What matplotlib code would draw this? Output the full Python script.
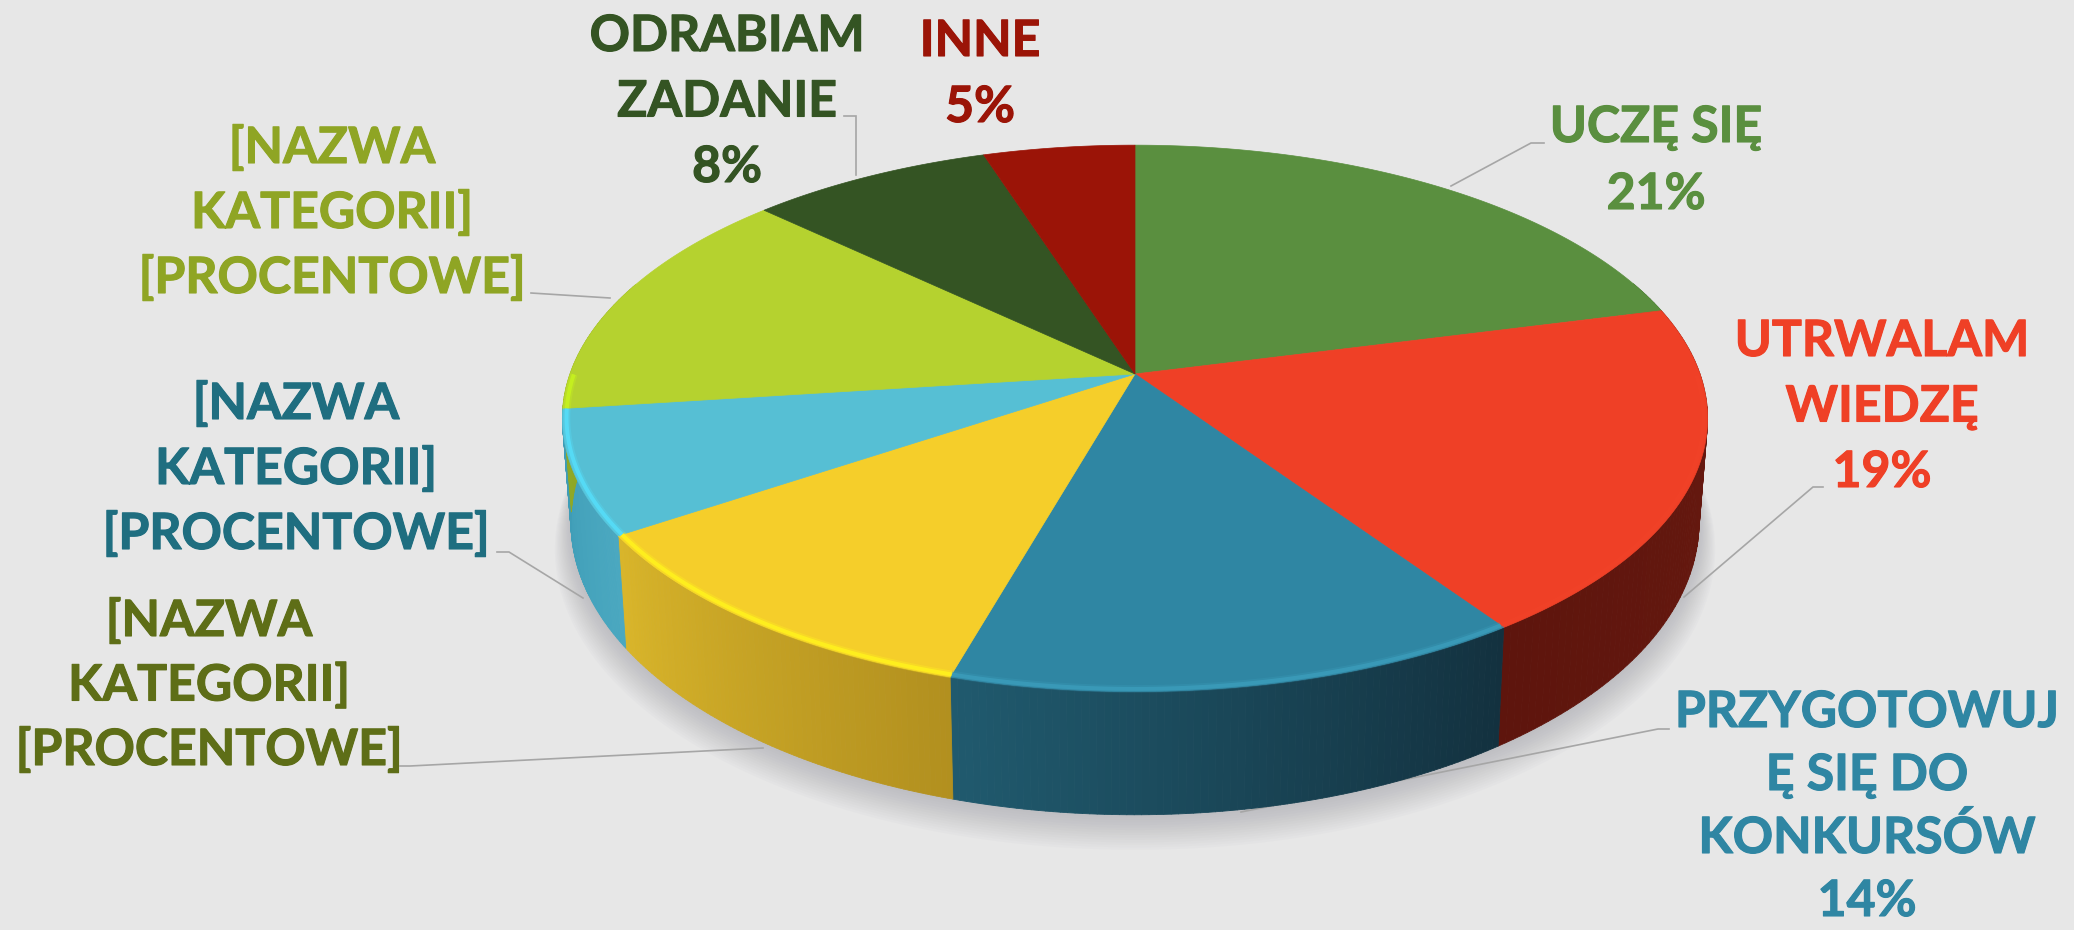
import numpy as np
import matplotlib
matplotlib.use("Agg")
import matplotlib.pyplot as plt
import matplotlib.patheffects as pe
from matplotlib.collections import PolyCollection
from matplotlib.colors import to_rgb

plt.rcParams['font.family'] = ['Lato', 'DejaVu Sans']

# Slice shares (clockwise from 12 o'clock)
shares = [21, 19.4, 14, 11.2, 7.3, 14, 8, 5]
top_colors = ['#5A8F3F', '#EF4026', '#2F86A3', '#F5CE2A', '#56BFD4', '#B5D22F', '#345423', '#9B1407']
wall_start = ['#3C5F2A', '#6A1A10', '#13313F', '#B2901F', '#4AA8C0', '#8FA826', '#22381A', '#660E05']
wall_end = ['#3C5F2A', '#5E150D', '#205A6E', '#D9B52A', '#3E9CB6', '#8FA826', '#22381A', '#660E05']
rim_colors = [None, '#F5452A', '#3FA3C2', '#FFF01E', '#55DDF8', '#C6F21E', None, None]
rim_alpha = [0, 0.3, 0.6, 0.95, 0.9, 0.9, 0, 0]

label_lines = [
    ['UCZĘ SIĘ', '21%'],
    ['UTRWALAM', 'WIEDZĘ', '19%'],
    ['PRZYGOTOWUJ', 'Ę SIĘ DO', 'KONKURSÓW', '14%'],
    ['[NAZWA', 'KATEGORII]', '[PROCENTOWE]'],
    ['[NAZWA', 'KATEGORII]', '[PROCENTOWE]'],
    ['[NAZWA', 'KATEGORII]', '[PROCENTOWE]'],
    ['ODRABIAM', 'ZADANIE', '8%'],
    ['INNE', '5%'],
]
label_colors = ['#5A8F3F', '#EF4026', '#2F86A3', '#5E6E17', '#1F6E80', '#8FA524', '#345423', '#9B1407']
label_x = [1656, 1882, 1867, 209, 296, 332, 727, 980]
label_y = [142, 356, 727, 636, 419, 163, 51, 56]
label_pitch = [67, 65.5, 63, 64.5, 65, 65, 65.5, 66]
leaders = [
    [(1451, 186), (1531, 143), (1544, 143)],
    [(1684, 597), (1813, 487), (1823, 487)],
    [(1241, 812), (1658, 729), (1669, 729)],
    [(763, 748), (410, 766), (400, 766)],
    [(583, 598), (509, 552), (497, 552)],
    [(610, 298), (531, 293)],
    [(856, 175), (856, 116), (844, 116)],
]

BG = '#E7E7E7'
CX, CY, A, B, P = 1135.0, 374.0, 565.0, 266.0, 0.1623


def top_xy(theta, r=1.0):
    x, y = r * np.sin(theta), r * np.cos(theta)
    w = 1 + P * y
    return A * x / w, -B * y / w


def bottom_xy(theta):
    X, Y = top_xy(theta)
    return 0.985 * X, Y + 101 + 0.07 * Y


fig = plt.figure(figsize=(20.74, 9.30), dpi=100, facecolor=BG)
ax = fig.add_axes([0, 0, 1, 1])
ax.set_xlim(0, 2074)
ax.set_ylim(930, 0)
ax.axis('off')

# soft shadow under the pie
full = np.linspace(0, 2 * np.pi, 361)
bx, by = bottom_xy(full)
for k in range(14):
    grow = 1 + 0.0022 * k
    ax.fill(CX + bx * grow, CY + by * grow + 1.5 * k + 3, color='#8F8F98', alpha=0.035, lw=0, zorder=1)

# leader lines end at the pie's edge, behind it
for pts in leaders:
    xs, ys = zip(*pts)
    ax.plot(xs, ys, color='#A6A6A6', lw=1.2, zorder=1.5, solid_joinstyle='miter')

edges = np.cumsum([0] + shares) / sum(shares) * 2 * np.pi

# side wall
for i in range(len(shares)):
    th = np.linspace(edges[i], edges[i + 1], 80)
    c0, c1 = np.array(to_rgb(wall_start[i])), np.array(to_rgb(wall_end[i]))
    quads, cols = [], []
    for j in range(len(th) - 1):
        t = th[j:j + 2]
        if np.cos(t).min() > 0.35:
            continue
        tx, ty = top_xy(t)
        ux, uy = bottom_xy(t)
        quads.append([(CX + tx[0], CY + ty[0]), (CX + tx[1], CY + ty[1]),
                      (CX + ux[1], CY + uy[1]), (CX + ux[0], CY + uy[0])])
        cols.append(c0 + (c1 - c0) * j / (len(th) - 2))
    if quads:
        ax.add_collection(PolyCollection(quads, facecolors=cols, edgecolors=cols, linewidths=0.6, zorder=2))

# top face
for i in range(len(shares)):
    th = np.linspace(edges[i], edges[i + 1], 120)
    tx, ty = top_xy(th)
    ax.fill(np.r_[CX, CX + tx], np.r_[CY, CY + ty], color=top_colors[i], lw=0.5, zorder=3)

# bright rim along the front edge
for i in range(len(shares)):
    if rim_colors[i] is None:
        continue
    th = np.linspace(edges[i], edges[i + 1], 120)
    th = th[np.cos(th) < 0.0]
    if len(th) < 2:
        continue
    tx, ty = top_xy(th, 0.993)
    ax.plot(CX + tx, CY + ty, color=rim_colors[i], lw=5.5, alpha=rim_alpha[i] * 0.35, solid_capstyle='butt', zorder=4)
    ax.plot(CX + tx, CY + ty, color=rim_colors[i], lw=2.8, alpha=rim_alpha[i], solid_capstyle='butt', zorder=4)

# labels
for lines, col, x, y, pitch in zip(label_lines, label_colors, label_x, label_y, label_pitch):
    for n, line in enumerate(lines):
        ax.text(x, y + n * pitch, line, color=col, fontsize=36, fontweight='bold',
                ha='center', va='baseline', zorder=6,
                path_effects=[pe.withStroke(linewidth=0.8, foreground=col)])

fig.savefig('out.png', dpi=100, facecolor=BG)
